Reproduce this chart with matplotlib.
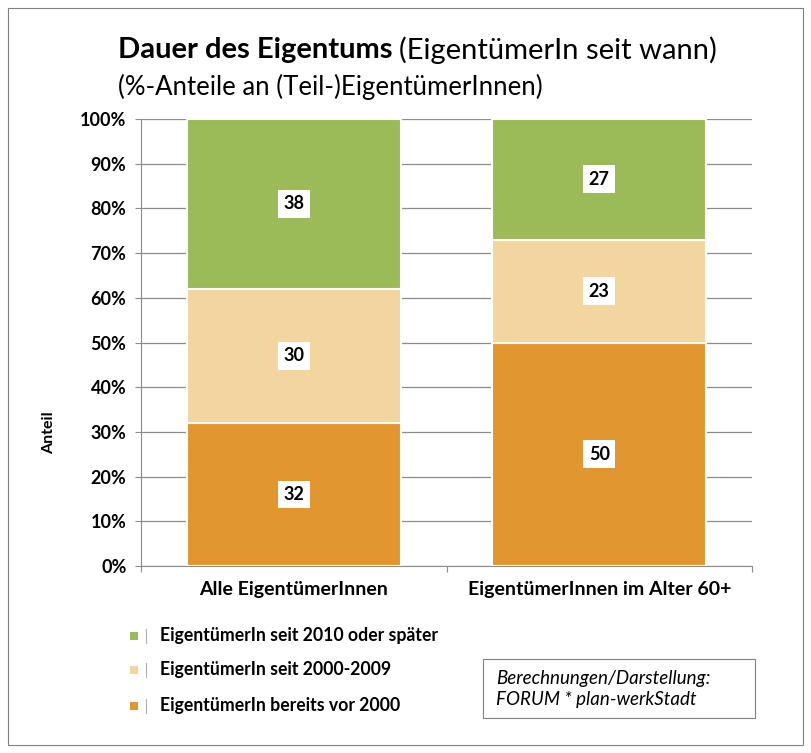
import matplotlib as mpl
mpl.use('agg')
import matplotlib.pyplot as plt
from matplotlib.patches import Rectangle
import numpy as np

plt.rcParams['font.family'] = ['Lato', 'DejaVu Sans']

# data
categories = ['Alle EigentümerInnen', 'EigentümerInnen im Alter 60+']
series_names = ['EigentümerIn bereits vor 2000', 'EigentümerIn seit 2000-2009',
                'EigentümerIn seit 2010 oder später']
vor_2000 = [32, 50]
seit_2000_2009 = [30, 23]
seit_2010 = [38, 27]
colors = ['#E2962F', '#F3D5A0', '#9BBB59']
ytick_labels = ['0%', '10%', '20%', '30%', '40%', '50%', '60%', '70%', '80%', '90%', '100%']

W, H = 812, 753
fig = plt.figure(figsize=(W / 100, H / 100), dpi=100)

# outer frame
fig.patches.append(Rectangle((8 / W, 8 / H), 795 / W, 737 / H, transform=fig.transFigure,
                             fill=False, edgecolor='#808080', lw=0.8))

ax = fig.add_axes([141 / W, 1 - 566 / H, 611 / W, 447 / H])
x = np.arange(len(categories))
bottom = np.zeros(len(categories))
for vals, col in zip([vor_2000, seit_2000_2009, seit_2010], colors):
    vals = np.array(vals, dtype=float)
    ax.bar(x, vals, 0.7, bottom=bottom, color=col, edgecolor='white', linewidth=1.5, zorder=3)
    for xi, v, b in zip(x, vals, bottom):
        ax.text(xi, b + v / 2, '%d' % v, ha='center', va='center', fontsize=13,
                fontweight='bold', zorder=4,
                bbox=dict(boxstyle='square,pad=0.3', fc='white', ec='none'))
    bottom += vals

ax.set_xlim(-0.5, 1.5)
ax.set_ylim(0, 100)
ax.set_yticks(np.arange(0, 101, 10))
ax.set_yticklabels(ytick_labels, fontsize=13, fontweight='bold')
ax.yaxis.grid(True, color='#8c8c8c', lw=0.9, zorder=0)
ax.tick_params(axis='y', length=4.5, color='#8c8c8c', pad=6)
ax.set_xticks([-0.5, 0.5, 1.5], minor=False)
ax.set_xticklabels(['', '', ''])
ax.tick_params(axis='x', length=4.5, color='#8c8c8c')
for xi, c in zip(x, categories):
    ax.text(xi, -5.2, c, ha='center', va='center', fontsize=14, fontweight='bold')
for s in ['top', 'right']:
    ax.spines[s].set_visible(False)
for s in ['left', 'bottom']:
    ax.spines[s].set_color('#8c8c8c')

# y label (placed lower than axis centre, like the original)
fig.text(49 / W, 1 - 433 / H, 'Anteil', fontsize=11.5, fontweight='bold', rotation=90,
         va='center', ha='center')

# title
t1 = fig.text(118 / W, 1 - 50 / H, 'Dauer des Eigentums', fontsize=21, fontweight='bold',
              va='center', ha='left')
fig.canvas.draw()
bb = t1.get_window_extent()
fig.text((bb.x1 + 7) / W, 1 - 50 / H, '(EigentümerIn seit wann)', fontsize=21,
         va='center', ha='left')
fig.text(118 / W, 1 - 87 / H, '(%-Anteile an (Teil-)EigentümerInnen)', fontsize=18.5,
         va='center', ha='left')

# legend
leg_y = [636, 670, 706]
for name, col, yy in zip(series_names[::-1], colors[::-1], leg_y):
    fig.patches.append(Rectangle((130 / W, 1 - (yy + 4) / H), 8 / W, 8 / H,
                                 transform=fig.transFigure, fc=col, ec='none'))
    fig.lines.append(plt.Line2D([146 / W, 146 / W], [1 - (yy + 7) / H, 1 - (yy - 7) / H],
                                transform=fig.transFigure, color='#b0b0b0', lw=0.8))
    fig.text(160 / W, 1 - yy / H, name, fontsize=12.7, fontweight='bold', va='center', ha='left')

# source box
fig.patches.append(Rectangle((483 / W, 1 - 718 / H), 272 / W, 59 / H, transform=fig.transFigure,
                             fill=False, edgecolor='#808080', lw=0.8))
fig.text(496 / W, 1 - 689 / H, 'Berechnungen/Darstellung:\nFORUM * plan-werkStadt',
         fontsize=13.5, style='italic', va='center', ha='left', linespacing=1.3)

fig.savefig('out.png', dpi=100)
